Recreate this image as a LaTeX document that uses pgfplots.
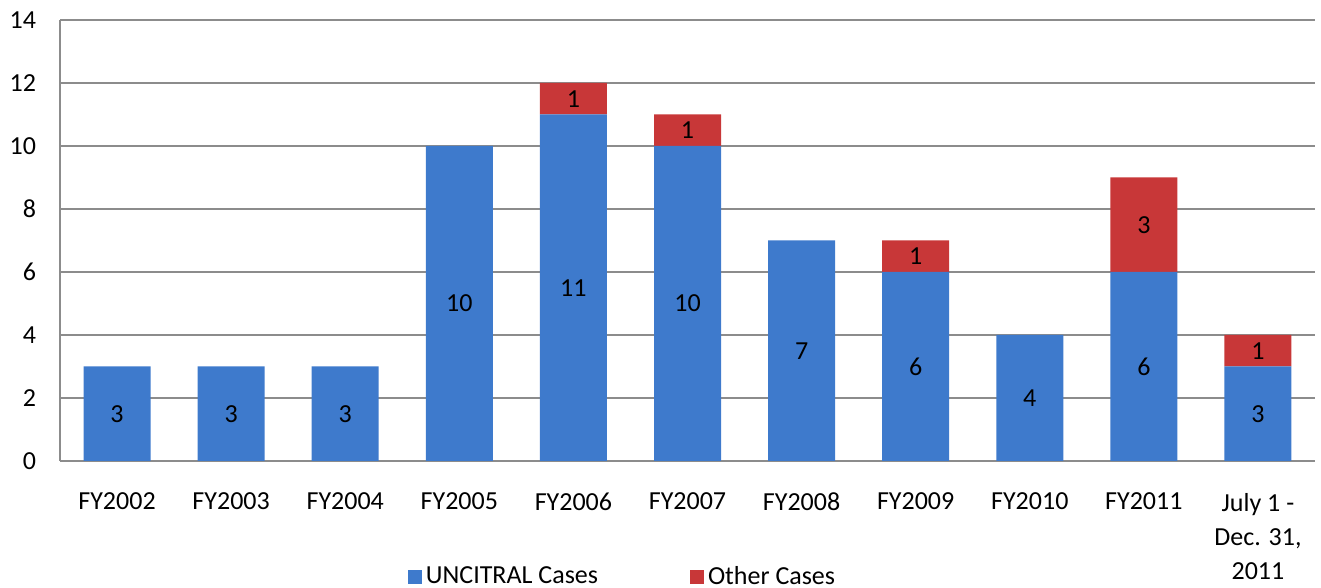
\documentclass[border=0pt]{standalone}
\usepackage{fontspec}
\setmainfont{Carlito}
\usepackage{pgfplots}
\usepackage{pgfplotstable}
\pgfplotsset{compat=1.18}
\definecolor{bmain}{RGB}{62,122,204}
\definecolor{rmain}{RGB}{200,55,56}
\definecolor{gridc}{RGB}{140,140,140}
\pgfplotstableread{
x u o
0 3 0
1 3 0
2 3 0
3 10 0
4 11 1
5 10 1
6 7 0
7 6 1
8 4 0
9 6 3
10 3 1
}\data
\begin{document}
\begin{tikzpicture}
\path[use as bounding box] (-30pt,-63.5pt) rectangle (630.5pt,230.5pt);
\begin{axis}[
  at={(0,0)}, anchor=south west,
  scale only axis,
  width=627.5pt, height=220.5pt,
  ybar stacked,
  bar width=33.5pt,
  xmin=-0.5, xmax=10.5,
  ymin=0, ymax=14,
  ytick={0,2,...,14},
  xtick=data,
  xticklabels={FY2002,FY2003,FY2004,FY2005,FY2006,FY2007,FY2008,FY2009,FY2010,FY2011,{July 1 -\\Dec. 31,\\2011}},
  axis x line*=bottom,
  axis y line*=left,
  axis line style={gridc, line width=0.6pt},
  ymajorgrids,
  grid style={gridc, line width=0.6pt},
  x tick style={draw=none},
  y tick style={draw=none},
  major tick length=0pt,
  /pgf/number format/assume math mode=true,
  tick label style={font=\fontsize{13}{17}\selectfont, text=black},
  xticklabel style={align=center, anchor=north, yshift=-12.5pt},
  yticklabel style={xshift=-8.5pt},
  legend columns=2,
  legend style={at={(0.449,-0.262)}, anchor=center, draw=none, fill=none,
    font=\fontsize{13}{15}\selectfont, /tikz/every even column/.append style={column sep=44pt}},
  legend image code/.code={\fill[#1] (0pt,-3.5pt) rectangle (7pt,3.5pt);},
  nodes near coords={\pgfmathfloatifflags{\pgfplotspointmeta}{0}{}{\pgfmathprintnumber{\pgfplotspointmeta}}},
  every node near coord/.append style={font=\fontsize{13}{15}\selectfont, text=black, anchor=center},
  point meta=explicit,
]
\addplot[draw=none, fill=bmain]
  table[x=x, y=u, meta=u] {\data};
\addlegendentry{UNCITRAL Cases}
\addplot[draw=none, fill=rmain]
  table[x=x, y=o, meta=o] {\data};
\addlegendentry{Other Cases}
\end{axis}
\end{tikzpicture}
\end{document}
